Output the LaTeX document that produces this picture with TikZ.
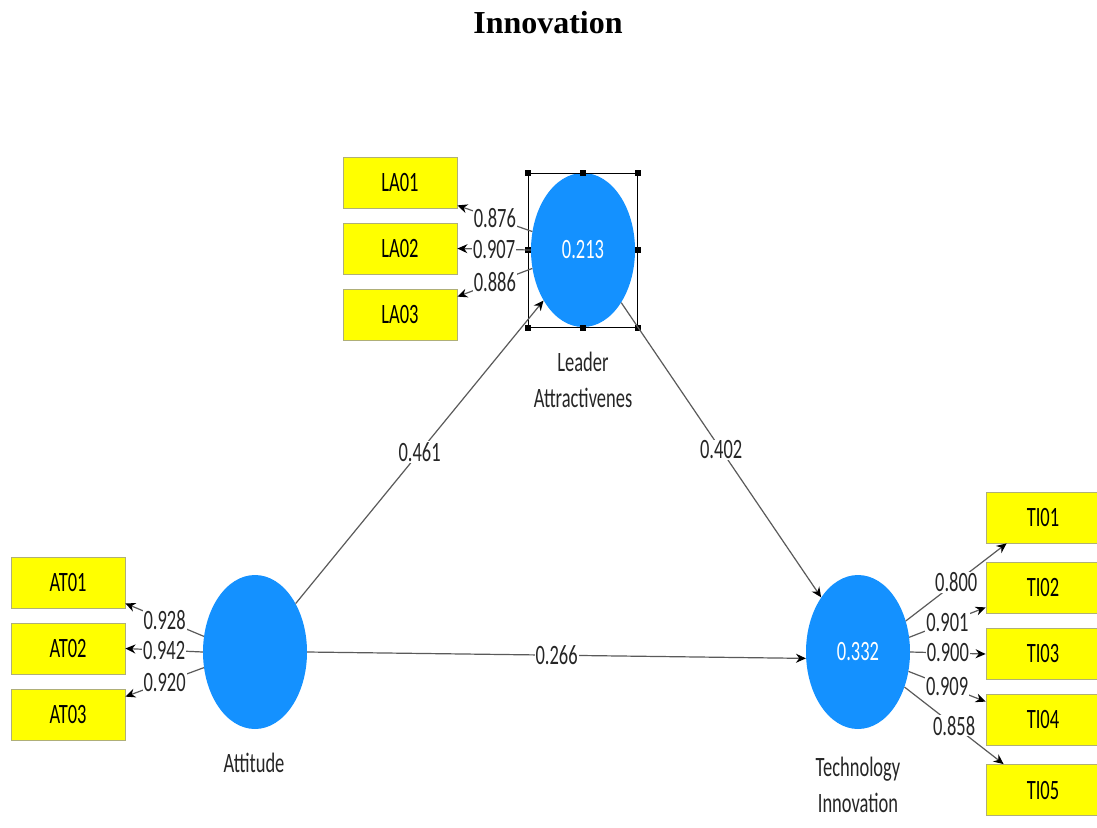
\documentclass[tikz,border=0pt]{standalone}
\usepackage{fontspec}
\newfontfamily\uifont[FakeStretch=0.66]{Carlito}
\newfontfamily\titlefont{Liberation Serif}
\usetikzlibrary{shapes.geometric,arrows.meta,calc}

\definecolor{lvblue}{RGB}{20,145,255}
\definecolor{mvyellow}{RGB}{255,255,0}
\definecolor{mvedge}{RGB}{175,175,120}
\definecolor{pathgray}{RGB}{90,90,90}

\begin{document}
\begin{tikzpicture}[x=1pt,y=-1pt,
  latent/.style={ellipse, fill=lvblue, minimum width=104pt, minimum height=154pt,
    inner sep=0pt, text=white, font=\uifont\fontsize{28}{28}\selectfont},
  indicator/.style={rectangle, fill=mvyellow, draw=mvedge, line width=0.8pt,
    minimum width=114pt, minimum height=51pt, inner sep=0pt,
    font=\uifont\fontsize{28}{28}\selectfont},
  caption/.style={font=\uifont\fontsize{28}{36}\selectfont, align=center, text=black!85},
  load/.style={draw=pathgray, line width=1.2pt, -{Stealth[length=10pt,width=9pt,black]}},
  coef/.style={fill=white, inner sep=1pt, font=\uifont\fontsize{28}{28}\selectfont, text=black!85},
  handle/.style={rectangle, fill=black, minimum size=6pt, inner sep=0pt},
]
% page frame
\useasboundingbox (0,0) rectangle (1097,827);
\fill[white] (0,0) rectangle (1097,827);

% title
\node (title) at (548,23) {\titlefont\bfseries\fontsize{32}{32}\selectfont Innovation};

% latent variables
\node[latent] (la) at (583,250) {0.213};
\node[latent] (at) at (255,652) {};
\node[latent] (ti) at (858,652) {0.332};

\node[caption] (lacap) at (583,380) {Leader\\Attractivenes};
\node[caption] (atcap) at (254,763) {Attitude};
\node[caption] (ticap) at (858,785) {Technology\\Innovation};

% selection frame around the selected construct
\node[draw=black, line width=1pt, minimum width=109pt, minimum height=154pt, inner sep=0pt] (sel) at (la) {};
\foreach \a in {north west, north, north east, east, south east, south, south west, west}
  \node[handle] at (sel.\a) {};

% indicators
\node[indicator] (la01) at (400,182.5) {LA01};
\node[indicator] (la02) at (400,248.5) {LA02};
\node[indicator] (la03) at (400,314.5) {LA03};

\node[indicator] (at01) at (68,582.5) {AT01};
\node[indicator] (at02) at (68,648.5) {AT02};
\node[indicator] (at03) at (68,714.5) {AT03};

\node[indicator] (ti01) at (1043,517.5) {TI01};
\node[indicator] (ti02) at (1043,587.5) {TI02};
\node[indicator] (ti03) at (1043,654) {TI03};
\node[indicator] (ti04) at (1043,719.5) {TI04};
\node[indicator] (ti05) at (1043,790) {TI05};

% outer loadings
\draw[load] (la.160) -- node[coef] {0.876} ([yshift=3pt]la01.south east);
\draw[load] (la.180) -- node[coef] {0.907} (la02.east);
\draw[load] (la.200) -- node[coef] {0.886} ([yshift=-8pt]la03.north east);

\draw[load] (at.163) -- node[coef] {0.928} ([yshift=5pt]at01.south east);
\draw[load] (at.180) -- node[coef] {0.942} (at02.east);
\draw[load] (at.197) -- node[coef] {0.920} ([yshift=-8pt]at03.north east);

\draw[load] (ti.33)  -- node[coef] {0.800} ([xshift=21pt]ti01.south west);
\draw[load] (ti.16)  -- node[coef] {0.901} ([yshift=6pt]ti02.south west);
\draw[load] (ti.0)   -- node[coef] {0.900} (ti03.west);
\draw[load] (ti.-21) -- node[coef] {0.909} ([yshift=-8pt]ti04.north west);
\draw[load] (ti.-37) -- node[coef] {0.858} ([xshift=18pt]ti05.north west);

% path coefficients
\draw[load] (at.50)  -- node[coef] {0.461} (la.232);
\draw[load] (la.306) -- node[coef] {0.402} (ti.124);
\draw[load] (at.0)   -- node[coef] {0.266} (ti.187);
\end{tikzpicture}
\end{document}
